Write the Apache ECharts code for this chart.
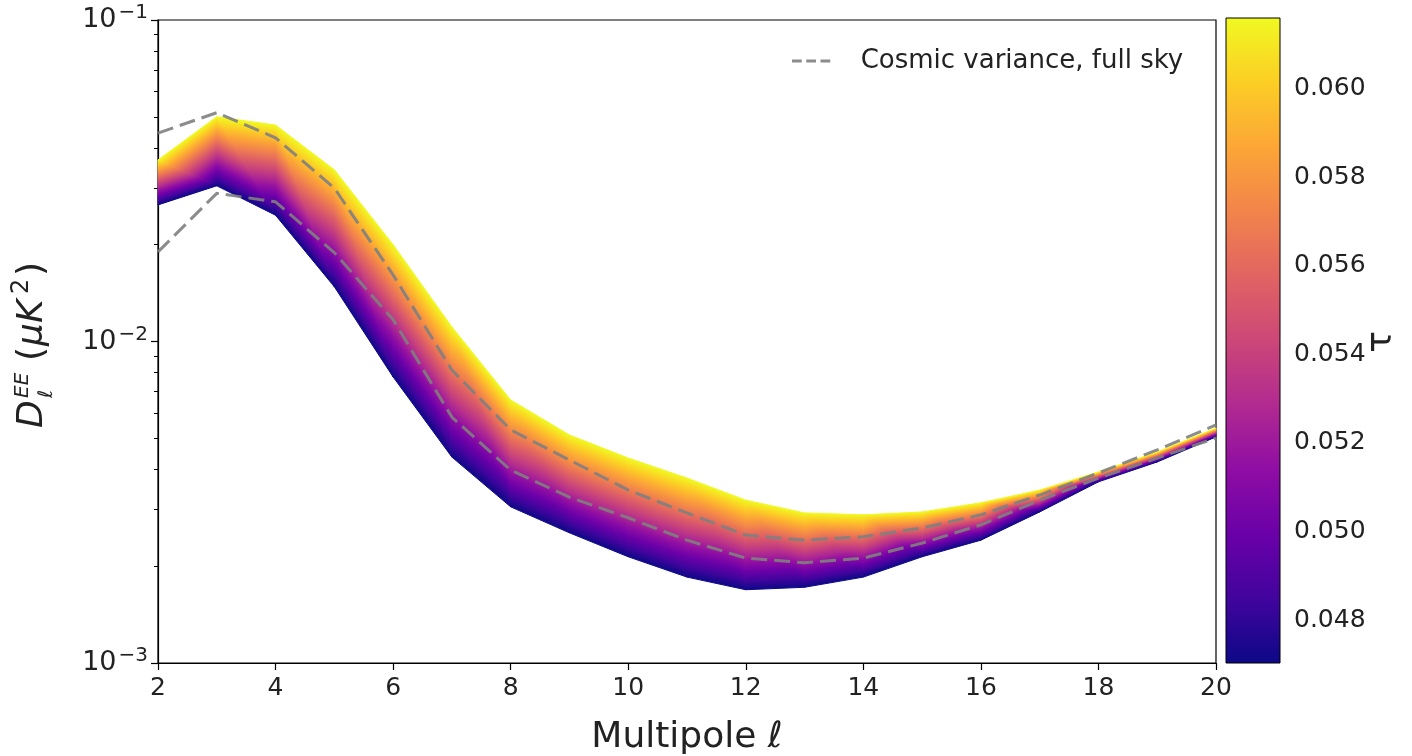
<!DOCTYPE html>
<html>
<head>
<meta charset="utf-8">
<script src="https://cdn.jsdelivr.net/npm/echarts@6/dist/echarts.min.js"></script>
<style>
  html, body { margin: 0; background: #fff; }
  #chart { width: 1412px; height: 756px; }
</style>
</head>
<body>
<div id="chart"></div>
<script>
// multipoles
const ells = [2, 3, 4, 5, 6, 7, 8, 9, 10, 11, 12, 13, 14, 15, 16, 17, 18, 19, 20];

// D_ell^EE (muK^2) for the lowest and highest tau of the family
const lowTauCurve = [0.0266, 0.0305, 0.0247, 0.0148, 0.00776, 0.00437, 0.00306, 0.00254, 0.00214, 0.00185,
  0.00169, 0.00172, 0.00185, 0.00214, 0.00241, 0.00295, 0.00366, 0.00422, 0.00505];
const highTauCurve = [0.0367, 0.0500, 0.0471, 0.0342, 0.0200, 0.0111, 0.00658, 0.00512, 0.00434, 0.00376,
  0.00321, 0.00293, 0.00289, 0.00295, 0.00315, 0.00345, 0.00393, 0.00453, 0.00538];

// cosmic variance envelope (full sky)
const cvUpper = [0.0445, 0.0515, 0.0430, 0.0300, 0.0161, 0.00815, 0.00531, 0.00428, 0.00345, 0.00293,
  0.00250, 0.00241, 0.00247, 0.00263, 0.00289, 0.00333, 0.00390, 0.00460, 0.00550];
const cvLower = [0.0190, 0.0289, 0.0272, 0.0189, 0.0117, 0.00582, 0.00398, 0.00328, 0.00283, 0.00241,
  0.00212, 0.00205, 0.00212, 0.00236, 0.00269, 0.00321, 0.00376, 0.00434, 0.00501];

// colorbar
const tauRange = [0.04703, 0.0616];
const tauTicks = [0.048, 0.050, 0.052, 0.054, 0.056, 0.058, 0.060];
const minorTicks = [0.002, 0.003, 0.004, 0.005, 0.006, 0.007, 0.008, 0.009,
  0.02, 0.03, 0.04, 0.05, 0.06, 0.07, 0.08, 0.09];

const plasma = ["#0d0887", "#41049d", "#6a00a8", "#8f0da4", "#b12a90", "#cc4778",
  "#e16462", "#f2844b", "#fca636", "#fcce25", "#f0f921"];
const plasmaStops = plasma.map((c, i) => ({ offset: i / (plasma.length - 1), color: c }));

const FONT = "DejaVu Sans";
const legendName = "Cosmic variance, full sky";

// band pieces between neighbouring multipoles
const bandData = [];
for (let i = 0; i < ells.length - 1; i++) {
  bandData.push([ells[i], lowTauCurve[i], highTauCurve[i], ells[i + 1], lowTauCurve[i + 1], highTauCurve[i + 1]]);
}

function project(p, a, b) {
  const dx = b[0] - a[0], dy = b[1] - a[1];
  const len2 = dx * dx + dy * dy || 1;
  const k = ((p[0] - a[0]) * dx + (p[1] - a[1]) * dy) / len2;
  return [a[0] + k * dx, a[1] + k * dy];
}

function gradient(from, to) {
  return {
    type: "linear", global: true,
    x: from[0], y: from[1], x2: to[0], y2: to[1],
    colorStops: plasmaStops,
  };
}

function tri(points, grad) {
  return {
    type: "polygon",
    shape: { points: points },
    style: { fill: grad, stroke: grad, lineWidth: 1 },
  };
}

function renderBand(params, api) {
  const b0 = api.coord([api.value(0), api.value(1)]);
  const t0 = api.coord([api.value(0), api.value(2)]);
  const b1 = api.coord([api.value(3), api.value(4)]);
  const t1 = api.coord([api.value(3), api.value(5)]);
  // lower triangle: b0,b1 at low tau, t0 at high tau
  const s = project(t0, b0, b1);
  // upper triangle: t0,t1 at high tau, b1 at low tau
  const e = project(b1, t0, t1);
  return {
    type: "group",
    children: [
      tri([b0, b1, t0], gradient(s, t0)),
      tri([b1, t1, t0], gradient(b1, e)),
    ],
  };
}

function renderColorbar(params, api) {
  const p0 = api.coord([api.value(0), api.value(1)]);
  const p1 = api.coord([api.value(2), api.value(3)]);
  return {
    type: "rect",
    shape: { x: p0[0], y: p1[1], width: p1[0] - p0[0], height: p0[1] - p1[1] },
    style: {
      fill: { type: "linear", x: 0, y: 1, x2: 0, y2: 0, colorStops: plasmaStops },
      stroke: "#000", lineWidth: 1,
    },
  };
}

const chart = echarts.init(document.getElementById("chart"));

const dash = { color: "rgba(128,128,128,0.9)", width: 3, type: [16, 7] };

chart.setOption({
  animation: false,
  backgroundColor: "#fff",
  textStyle: { fontFamily: FONT },
  grid: [
    {
      left: 158, top: 20, width: 1058, height: 643, outerBoundsMode: "none",
      show: true, borderColor: "#000", borderWidth: 1.2, backgroundColor: "transparent",
    },
    { left: 1226, top: 18, width: 54, height: 645, outerBoundsMode: "none" },
  ],
  legend: {
    data: [{ name: legendName, icon: "path://M0,0h13v4h-13z M19,0h13v4h-13z M38,0h13v4h-13z" }],
    left: 787, top: 43,
    itemWidth: 51, itemHeight: 3,
    textStyle: { fontSize: 26, color: "#222", fontFamily: FONT, padding: [0, 0, 0, 19] },
  },
  xAxis: [
    {
      gridIndex: 0, type: "value", min: 2, max: 20, interval: 2,
      axisLine: { lineStyle: { color: "#000", width: 1.2 } },
      axisTick: { length: 7, lineStyle: { color: "#000", width: 1.2 } },
      axisLabel: { fontSize: 25, color: "#222", margin: 13, fontFamily: FONT },
      splitLine: { show: false },
      name: "Multipole ℓ", nameLocation: "middle", nameGap: 57,
      nameTextStyle: { fontSize: 36, color: "#222", fontFamily: FONT },
    },
    { gridIndex: 1, type: "value", min: 0, max: 1, show: false },
  ],
  yAxis: [
    {
      gridIndex: 0, type: "log", logBase: 10, min: 0.001, max: 0.1,
      axisLine: { lineStyle: { color: "#000", width: 1.2 } },
      axisTick: { length: 7, lineStyle: { color: "#000", width: 1.2 } },
      axisLabel: {
        margin: 10, color: "#222",
        formatter: (v) => "{b|10}{s|−" + Math.round(-Math.log10(v)) + "}",
        rich: {
          b: { fontSize: 27, fontFamily: FONT, color: "#222" },
          s: { fontSize: 20, fontFamily: FONT, color: "#222", padding: [0, 0, 14, 2] },
        },
      },
      splitLine: { show: false },
    },
    {
      gridIndex: 0, type: "log", logBase: 10, min: 0.001, max: 0.1, position: "left",
      axisLine: { show: false },
      axisTick: { length: 4, customValues: minorTicks, lineStyle: { color: "#000", width: 1 } },
      axisLabel: { show: false },
      splitLine: { show: false },
    },
    {
      gridIndex: 1, type: "value", min: tauRange[0], max: tauRange[1], position: "right",
      axisLine: { show: false },
      axisTick: { length: 6, customValues: tauTicks, lineStyle: { color: "#000", width: 1.2 } },
      axisLabel: {
        customValues: tauTicks, margin: 14, fontSize: 25, color: "#222", fontFamily: FONT,
        formatter: (v) => v.toFixed(3),
      },
      splitLine: { show: false },
    },
  ],
  graphic: [
    {
      type: "group", x: 33, y: 428, rotation: Math.PI / 2,
      children: [
        { type: "text", x: 0, y: 0, style: { text: "D", font: "italic 36px " + FONT, fill: "#222", verticalAlign: "middle" } },
        { type: "text", x: 30, y: -10, style: { text: "EE", font: "italic 20px " + FONT, fill: "#222", verticalAlign: "middle" } },
        { type: "text", x: 30, y: 14, style: { text: "ℓ", font: "italic 20px " + FONT, fill: "#222", verticalAlign: "middle" } },
        { type: "text", x: 67, y: 0, style: { text: "(", font: "36px " + FONT, fill: "#222", verticalAlign: "middle" } },
        { type: "text", x: 82, y: 0, style: { text: "μK", font: "italic 36px " + FONT, fill: "#222", verticalAlign: "middle" } },
        { type: "text", x: 134, y: -11, style: { text: "2", font: "24px " + FONT, fill: "#222", verticalAlign: "middle" } },
        { type: "text", x: 152, y: 0, style: { text: ")", font: "36px " + FONT, fill: "#222", verticalAlign: "middle" } },
      ],
    },
    {
      type: "text", x: 1382, y: 342, rotation: Math.PI / 2,
      style: { text: "τ", font: "36px " + FONT, fill: "#222", align: "center", verticalAlign: "middle" },
    },
  ],
  series: [
    {
      type: "custom", xAxisIndex: 0, yAxisIndex: 0,
      renderItem: renderBand, data: bandData,
      encode: { x: [0, 3], y: [1, 2, 4, 5] }, z: 2, silent: true,
    },
    {
      name: legendName, type: "line", xAxisIndex: 0, yAxisIndex: 0,
      data: ells.map((l, i) => [l, cvUpper[i]]),
      symbol: "none", lineStyle: dash, itemStyle: { color: dash.color }, z: 3,
    },
    {
      name: legendName, type: "line", xAxisIndex: 0, yAxisIndex: 0,
      data: ells.map((l, i) => [l, cvLower[i]]),
      symbol: "none", lineStyle: dash, itemStyle: { color: dash.color }, z: 3,
    },
    {
      type: "custom", xAxisIndex: 1, yAxisIndex: 2,
      renderItem: renderColorbar, data: [[0, tauRange[0], 1, tauRange[1]]],
      encode: { x: [0, 2], y: [1, 3] }, silent: true,
    },
  ],
});
</script>
</body>
</html>
